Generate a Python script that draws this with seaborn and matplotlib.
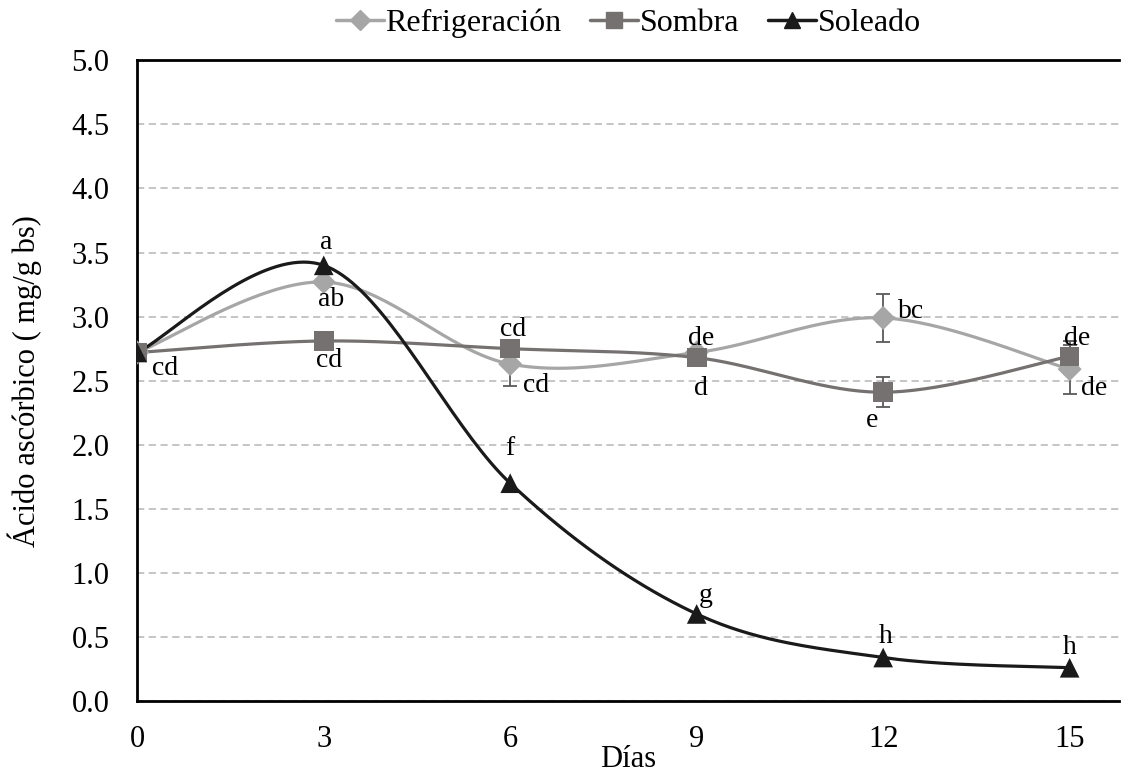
import matplotlib
matplotlib.use("Agg")
import matplotlib.pyplot as plt
import numpy as np
import pandas as pd
import seaborn as sns

# Data
dias = [0, 3, 6, 9, 12, 15]
refrigeracion = [2.72, 3.27, 2.63, 2.72, 2.99, 2.59]
sombra = [2.72, 2.81, 2.75, 2.68, 2.41, 2.69]
soleado = [2.72, 3.40, 1.70, 0.68, 0.34, 0.26]
err_refrigeracion = [0.0, 0.0, 0.17, 0.0, 0.19, 0.19]
err_sombra = [0.0, 0.0, 0.0, 0.0, 0.115, 0.12]
err_soleado = [0.0, 0.0, 0.0, 0.0, 0.0, 0.0]
letras_refrigeracion = ["", "ab", "cd", "de", "bc", "de"]
letras_sombra = ["cd", "cd", "cd", "d", "e", "de"]
letras_soleado = ["", "a", "f", "g", "h", "h"]

series = ["Refrigeración", "Sombra", "Soleado"]
colores = {"Refrigeración": "#a6a6a6", "Sombra": "#767171", "Soleado": "#1a1a1a"}
marcadores = {"Refrigeración": "D", "Sombra": "s", "Soleado": "^"}
tamanos = {"Refrigeración": 150, "Sombra": 200, "Soleado": 200}

df = pd.DataFrame({
    "Días": dias * 3,
    "valor": refrigeracion + sombra + soleado,
    "err": err_refrigeracion + err_sombra + err_soleado,
    "serie": sum([[s] * len(dias) for s in series], []),
})


def smooth(x, y, n=40):
    # Excel-like smoothed line: Catmull-Rom bezier through the points
    x = np.asarray(x, float)
    y = np.asarray(y, float)
    px = np.concatenate([[x[0]], x, [x[-1]]])
    py = np.concatenate([[y[0]], y, [y[-1]]])
    xs, ys = [], []
    t = np.linspace(0, 1, n)
    for i in range(1, len(px) - 2):
        p0 = np.array([px[i], py[i]])
        p3 = np.array([px[i + 1], py[i + 1]])
        p1 = p0 + (p3 - np.array([px[i - 1], py[i - 1]])) / 6
        p2 = p3 - (np.array([px[i + 2], py[i + 2]]) - p0) / 6
        b = ((1 - t) ** 3)[:, None] * p0 + (3 * (1 - t) ** 2 * t)[:, None] * p1 \
            + (3 * (1 - t) * t ** 2)[:, None] * p2 + (t ** 3)[:, None] * p3
        xs.append(b[:, 0])
        ys.append(b[:, 1])
    return np.concatenate(xs), np.concatenate(ys)


sns.set_style("white")
plt.rcParams["font.family"] = "serif"
plt.rcParams["font.serif"] = ["Liberation Serif", "DejaVu Serif"]
for k in ["text.color", "axes.labelcolor", "xtick.color", "ytick.color"]:
    plt.rcParams[k] = "black"
FUENTE = "Liberation Serif"

fig, ax = plt.subplots(figsize=(11.25, 7.73), dpi=100)
fig.subplots_adjust(left=0.122, right=0.995, top=0.922, bottom=0.093)

for s in series:
    d = df[df["serie"] == s]
    sx, sy = smooth(d["Días"], d["valor"])
    ax.plot(sx, sy, color=colores[s], lw=2.3, zorder=3)
    e = d[d["err"] > 0]
    ax.errorbar(e["Días"], e["valor"], yerr=e["err"], fmt="none",
                ecolor="#595959", elinewidth=1.3, capsize=5, capthick=1.3, zorder=2)

sns.scatterplot(data=df, x="Días", y="valor", hue="serie", style="serie",
                palette=colores, markers=marcadores, size="serie",
                sizes=tamanos, edgecolor="none", legend=False, ax=ax, zorder=4)

# legend
handles = [plt.Line2D([], [], color=colores[s], lw=2.5, marker=marcadores[s],
                      markersize=12 if s != "Refrigeración" else 10)
           for s in series]
ax.legend(handles, series, loc="center", bbox_to_anchor=(0.5, 1.058),
          ncol=3, frameon=False, prop={"family": FUENTE, "size": 23},
          handlelength=1.5, handletextpad=0.05, columnspacing=0.9)

# letter labels, offsets in pixels
fs = 20
offs_ref = [None, (7, -17), (26, -21), (4, 14), (28, 6), (24, -19)]
offs_som = [(28, -16), (5, -20), (3, 19), (4, -31), (-11, -28), (7, 18)]
offs_sol = [None, (2, 23), (0, 35), (9, 18), (2, 21), (0, 20)]
for vals, letras, offs in [(refrigeracion, letras_refrigeracion, offs_ref),
                           (sombra, letras_sombra, offs_som),
                           (soleado, letras_soleado, offs_sol)]:
    for xi, yi, l, o in zip(dias, vals, letras, offs):
        if l and o:
            ax.annotate(l, (xi, yi), xytext=o, textcoords="offset pixels",
                        ha="center", va="center", fontsize=fs,
                        family=FUENTE, zorder=5)

ax.set_xlim(0, 15.8)
ax.set_ylim(0, 5.0)
ax.set_xticks(dias)
ax.set_xticklabels([str(d) for d in dias], family=FUENTE)
ax.set_yticks(np.arange(0, 5.01, 0.5))
ax.set_yticklabels([f"{v:.1f}" for v in np.arange(0, 5.01, 0.5)], family=FUENTE)
ax.yaxis.grid(True, color="#c0c0c0", linestyle=(0, (4, 2.5)), lw=1.3)
ax.set_axisbelow(True)
ax.tick_params(axis="y", direction="in", length=7, width=1.5, labelsize=22, pad=20)
ax.tick_params(axis="x", direction="out", length=7, width=1.5, labelsize=22, pad=10)
for sp in ["left", "bottom", "top"]:
    ax.spines[sp].set_color("black")
    ax.spines[sp].set_linewidth(2)
ax.spines["right"].set_visible(False)
ax.set_xlabel("Días", fontsize=22, family=FUENTE)
ax.xaxis.set_label_coords(0.5, -0.068)
ax.set_ylabel("Ácido ascórbico ( mg/g bs)", fontsize=22, family=FUENTE)
ax.yaxis.set_label_coords(-0.097, 0.5)

fig.savefig("out.png", dpi=100)
